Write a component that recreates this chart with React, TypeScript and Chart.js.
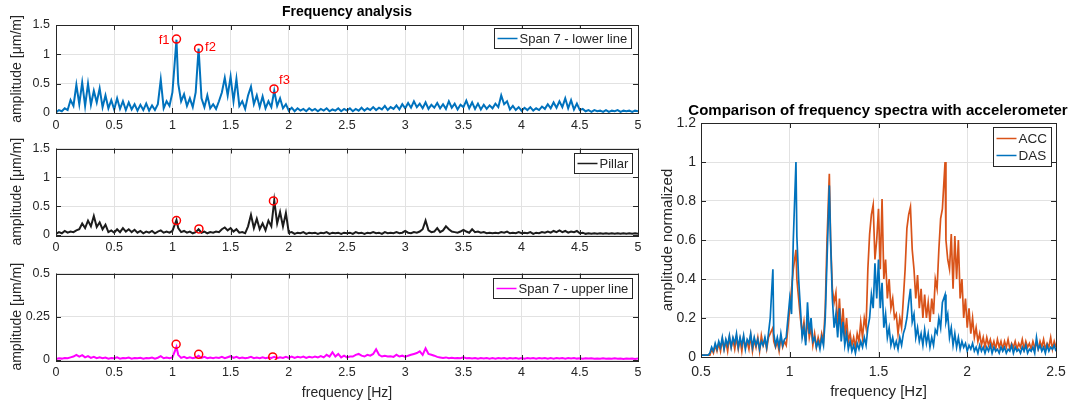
import React, { useEffect, useRef } from "react";
import { Chart, registerables } from "chart.js";

Chart.register(...registerables);

const FONT = "'Liberation Sans', Arial, Helvetica, sans-serif";
const AXIS_COLOR = "#262626";
const GRID_COLOR = "#e2e2e2";

// ---------- Left panels: frequency grid [Hz] ----------
const FREQ_L = [
  0, 0.025, 0.05, 0.075, 0.1, 0.125, 0.15, 0.175, 0.2, 0.225,
  0.25, 0.275, 0.3, 0.325, 0.35, 0.375, 0.4, 0.425, 0.45, 0.475,
  0.5, 0.525, 0.55, 0.575, 0.6, 0.625, 0.65, 0.675, 0.7, 0.725,
  0.75, 0.775, 0.8, 0.825, 0.85, 0.875, 0.9, 0.925, 0.95, 0.975,
  1, 1.035, 1.05, 1.075, 1.1, 1.125, 1.15, 1.175, 1.2, 1.225,
  1.25, 1.275, 1.3, 1.325, 1.35, 1.375, 1.4, 1.425, 1.45, 1.475,
  1.5, 1.525, 1.55, 1.575, 1.6, 1.625, 1.65, 1.675, 1.7, 1.725,
  1.75, 1.775, 1.8, 1.825, 1.85, 1.875, 1.9, 1.925, 1.95, 1.975,
  2, 2.025, 2.05, 2.075, 2.1, 2.125, 2.15, 2.175, 2.2, 2.225,
  2.25, 2.275, 2.3, 2.325, 2.35, 2.375, 2.4, 2.425, 2.45, 2.475,
  2.5, 2.525, 2.55, 2.575, 2.6, 2.625, 2.65, 2.675, 2.7, 2.725,
  2.75, 2.775, 2.8, 2.825, 2.85, 2.875, 2.9, 2.925, 2.95, 2.975,
  3, 3.025, 3.05, 3.075, 3.1, 3.125, 3.15, 3.175, 3.2, 3.225,
  3.25, 3.275, 3.3, 3.325, 3.35, 3.375, 3.4, 3.425, 3.45, 3.475,
  3.5, 3.525, 3.55, 3.575, 3.6, 3.625, 3.65, 3.675, 3.7, 3.725,
  3.75, 3.775, 3.8, 3.825, 3.85, 3.875, 3.9, 3.925, 3.95, 3.975,
  4, 4.025, 4.05, 4.075, 4.1, 4.125, 4.15, 4.175, 4.2, 4.225,
  4.25, 4.275, 4.3, 4.325, 4.35, 4.375, 4.4, 4.425, 4.45, 4.475,
  4.5, 4.525, 4.55, 4.575, 4.6, 4.625, 4.65, 4.675, 4.7, 4.725,
  4.75, 4.775, 4.8, 4.825, 4.85, 4.875, 4.9, 4.925, 4.95, 4.975,
  5,
];

// Span 7 - lower line [µm/m]
const LOWER = [
  0.01, 0.05, 0.03, 0.08, 0.05, 0.22, 0.12, 0.48, 0.15, 0.52,
  0.12, 0.5, 0.14, 0.38, 0.18, 0.42, 0.1, 0.3, 0.08, 0.22,
  0.06, 0.25, 0.07, 0.2, 0.05, 0.18, 0.06, 0.15, 0.04, 0.14,
  0.05, 0.16, 0.04, 0.13, 0.05, 0.15, 0.57, 0.08, 0.2, 0.12,
  0.35, 1.25, 0.5, 0.2, 0.32, 0.12, 0.25, 0.1, 0.35, 1.1,
  0.25, 0.1, 0.3, 0.08, 0.15, 0.07, 0.2, 0.35, 0.6, 0.3,
  0.62, 0.2, 0.58, 0.12, 0.2, 0.07, 0.3, 0.45, 0.15, 0.3,
  0.1, 0.28, 0.08, 0.2, 0.1, 0.38, 0.12, 0.25, 0.08, 0.15,
  0.04, 0.09, 0.03, 0.08, 0.04, 0.07, 0.03, 0.08, 0.04, 0.07,
  0.03, 0.07, 0.04, 0.08, 0.03, 0.06, 0.04, 0.08, 0.03, 0.07,
  0.04, 0.08, 0.03, 0.07, 0.04, 0.09, 0.04, 0.08, 0.05, 0.1,
  0.05, 0.09, 0.06, 0.12, 0.05, 0.1, 0.07, 0.13, 0.06, 0.15,
  0.08, 0.17, 0.09, 0.2, 0.1, 0.16, 0.08, 0.18, 0.07, 0.14,
  0.09, 0.17, 0.08, 0.15, 0.07, 0.2, 0.09, 0.16, 0.06, 0.14,
  0.1, 0.21, 0.08, 0.18, 0.07, 0.16, 0.06, 0.14, 0.07, 0.13,
  0.08, 0.16, 0.1, 0.3, 0.15, 0.2, 0.06, 0.12, 0.05, 0.1,
  0.04, 0.09, 0.05, 0.1, 0.04, 0.08, 0.05, 0.11, 0.07, 0.15,
  0.08, 0.18, 0.09, 0.2, 0.1, 0.25, 0.08, 0.22, 0.06, 0.16,
  0.05, 0.07, 0.03, 0.05, 0.02, 0.05, 0.03, 0.04, 0.02, 0.05,
  0.02, 0.04, 0.03, 0.05, 0.02, 0.04, 0.03, 0.04, 0.02, 0.04,
  0.03,
];

// Pillar [µm/m]
const PILLAR = [
  0.02, 0.05, 0.03, 0.07, 0.04, 0.06, 0.05, 0.08, 0.1, 0.2,
  0.12, 0.25, 0.15, 0.33, 0.14, 0.22, 0.1, 0.18, 0.05, 0.08,
  0.04, 0.1, 0.05, 0.12, 0.06, 0.1, 0.05, 0.09, 0.04, 0.07,
  0.03, 0.06, 0.04, 0.07, 0.03, 0.06, 0.08, 0.04, 0.06, 0.04,
  0.07, 0.26, 0.12, 0.05, 0.07, 0.04, 0.06, 0.03, 0.05, 0.1,
  0.04, 0.06, 0.03, 0.05, 0.04, 0.06, 0.05, 0.1, 0.13, 0.08,
  0.12, 0.06, 0.1, 0.04, 0.05, 0.03, 0.15, 0.35, 0.12, 0.28,
  0.1, 0.2, 0.08, 0.25, 0.15, 0.6, 0.2, 0.4, 0.15, 0.38,
  0.04, 0.05, 0.02, 0.04, 0.03, 0.05, 0.02, 0.04, 0.03, 0.04,
  0.02, 0.04, 0.03, 0.05, 0.02, 0.04, 0.03, 0.04, 0.02, 0.04,
  0.03, 0.04, 0.02, 0.05, 0.03, 0.04, 0.02, 0.04, 0.03, 0.05,
  0.03, 0.04, 0.02, 0.05, 0.03, 0.04, 0.03, 0.05, 0.03, 0.04,
  0.07, 0.04, 0.03, 0.05, 0.04, 0.06, 0.1, 0.25, 0.08, 0.05,
  0.06, 0.12, 0.05, 0.08, 0.15, 0.1, 0.06, 0.05, 0.04, 0.06,
  0.09, 0.06, 0.04, 0.1, 0.05, 0.06, 0.04, 0.05, 0.03, 0.04,
  0.03, 0.04, 0.03, 0.05, 0.04, 0.06, 0.03, 0.04, 0.03, 0.05,
  0.03, 0.04, 0.03, 0.05, 0.02, 0.04, 0.03, 0.05, 0.04, 0.06,
  0.04, 0.07, 0.05, 0.08, 0.05, 0.07, 0.04, 0.06, 0.05, 0.07,
  0.03, 0.04, 0.02, 0.03, 0.02, 0.03, 0.02, 0.03, 0.02, 0.03,
  0.02, 0.03, 0.02, 0.03, 0.02, 0.03, 0.02, 0.03, 0.02, 0.03,
  0.02,
];

// Span 7 - upper line [µm/m]
const UPPER = [
  0.005, 0.01, 0.008, 0.012, 0.01, 0.015, 0.02, 0.03, 0.02, 0.028,
  0.015, 0.022, 0.012, 0.018, 0.01, 0.015, 0.01, 0.014, 0.008, 0.012,
  0.01, 0.015, 0.008, 0.012, 0.01, 0.014, 0.008, 0.012, 0.01, 0.013,
  0.008, 0.012, 0.01, 0.014, 0.008, 0.013, 0.022, 0.01, 0.014, 0.01,
  0.015, 0.075, 0.03, 0.012, 0.018, 0.01, 0.015, 0.01, 0.014, 0.025,
  0.012, 0.018, 0.01, 0.014, 0.01, 0.015, 0.012, 0.018, 0.01, 0.016,
  0.022, 0.012, 0.018, 0.01, 0.014, 0.01, 0.013, 0.018, 0.01, 0.014,
  0.01, 0.015, 0.01, 0.014, 0.012, 0.018, 0.01, 0.016, 0.012, 0.018,
  0.012, 0.02, 0.012, 0.018, 0.014, 0.02, 0.012, 0.018, 0.014, 0.02,
  0.015, 0.022, 0.015, 0.03, 0.02, 0.045, 0.02, 0.035, 0.015, 0.025,
  0.015, 0.02, 0.02, 0.03, 0.035, 0.025, 0.02, 0.03, 0.025, 0.035,
  0.062, 0.03, 0.02, 0.025, 0.02, 0.022, 0.018, 0.03, 0.02, 0.025,
  0.018, 0.025, 0.03, 0.035, 0.04, 0.05, 0.03, 0.068, 0.035, 0.03,
  0.025, 0.018, 0.015, 0.012, 0.015, 0.01, 0.013, 0.01, 0.012, 0.01,
  0.015, 0.01, 0.012, 0.009, 0.012, 0.008, 0.011, 0.009, 0.012, 0.008,
  0.011, 0.008, 0.012, 0.009, 0.011, 0.008, 0.012, 0.009, 0.011, 0.008,
  0.012, 0.008, 0.011, 0.009, 0.012, 0.008, 0.011, 0.009, 0.012, 0.008,
  0.011, 0.008, 0.012, 0.009, 0.011, 0.008, 0.012, 0.009, 0.011, 0.008,
  0.01, 0.007, 0.01, 0.008, 0.01, 0.007, 0.009, 0.007, 0.01, 0.007,
  0.009, 0.007, 0.01, 0.007, 0.009, 0.006, 0.009, 0.007, 0.009, 0.006,
  0.008,
];

// Marked peaks
const PEAK_LABELS = ["f1", "f2", "f3"];
const PEAK_F_LOWER = [1.035, 1.225, 1.873];
const PEAK_A_LOWER = [1.26, 1.1, 0.41];
const PEAK_F_PILLAR = [1.035, 1.228, 1.868];
const PEAK_A_PILLAR = [0.25, 0.105, 0.59];
const PEAK_F_UPPER = [1.032, 1.226, 1.862];
const PEAK_A_UPPER = [0.091, 0.033, 0.018];

// ---------- Right panel ----------
const FREQ_R = [
  0.5, 0.51, 0.52, 0.53, 0.54, 0.55, 0.56, 0.57, 0.58, 0.59,
  0.6, 0.61, 0.62, 0.63, 0.64, 0.65, 0.66, 0.67, 0.68, 0.69,
  0.7, 0.71, 0.72, 0.73, 0.74, 0.75, 0.76, 0.77, 0.78, 0.79,
  0.8, 0.81, 0.82, 0.83, 0.84, 0.85, 0.86, 0.87, 0.88, 0.89,
  0.905, 0.91, 0.92, 0.93, 0.94, 0.95, 0.96, 0.97, 0.98, 0.99,
  1, 1.01, 1.02, 1.035, 1.04, 1.05, 1.06, 1.07, 1.08, 1.09,
  1.1, 1.11, 1.12, 1.13, 1.14, 1.15, 1.16, 1.17, 1.18, 1.19,
  1.2, 1.21, 1.223, 1.23, 1.24, 1.25, 1.26, 1.27, 1.28, 1.29,
  1.3, 1.31, 1.32, 1.33, 1.34, 1.35, 1.36, 1.37, 1.38, 1.39,
  1.4, 1.41, 1.42, 1.43, 1.44, 1.45, 1.46, 1.47, 1.48, 1.49,
  1.5, 1.51, 1.52, 1.53, 1.54, 1.55, 1.56, 1.57, 1.58, 1.59,
  1.6, 1.61, 1.62, 1.63, 1.64, 1.65, 1.66, 1.67, 1.68, 1.69,
  1.7, 1.71, 1.72, 1.73, 1.74, 1.75, 1.76, 1.77, 1.78, 1.79,
  1.8, 1.81, 1.82, 1.83, 1.84, 1.85, 1.86, 1.875, 1.88, 1.89,
  1.9, 1.91, 1.92, 1.93, 1.94, 1.95, 1.96, 1.97, 1.98, 1.99,
  2, 2.01, 2.02, 2.03, 2.04, 2.05, 2.06, 2.07, 2.08, 2.09,
  2.1, 2.11, 2.12, 2.13, 2.14, 2.15, 2.16, 2.17, 2.18, 2.19,
  2.2, 2.21, 2.22, 2.23, 2.24, 2.25, 2.26, 2.27, 2.28, 2.29,
  2.3, 2.31, 2.32, 2.33, 2.34, 2.35, 2.36, 2.37, 2.38, 2.39,
  2.4, 2.41, 2.42, 2.43, 2.44, 2.45, 2.46, 2.47, 2.48, 2.49,
  2.5,
];

const ACC = [
  0.01, 0.01, 0.01, 0.01, 0.01, 0.01, 0.04, 0.02, 0.06, 0.03,
  0.07, 0.03, 0.09, 0.04, 0.08, 0.03, 0.1, 0.05, 0.09, 0.04,
  0.1, 0.04, 0.09, 0.03, 0.1, 0.05, 0.08, 0.04, 0.11, 0.03,
  0.09, 0.05, 0.1, 0.03, 0.11, 0.06, 0.09, 0.04, 0.1, 0.12,
  0.15, 0.08, 0.05, 0.08, 0.03, 0.1, 0.05, 0.08, 0.06, 0.15,
  0.25, 0.35, 0.45, 0.55, 0.4, 0.3, 0.2, 0.12, 0.18, 0.08,
  0.2, 0.1, 0.15, 0.06, 0.12, 0.05, 0.1, 0.06, 0.12, 0.08,
  0.25, 0.6, 0.94, 0.61, 0.35, 0.28, 0.33, 0.15, 0.3, 0.12,
  0.25, 0.1, 0.2, 0.08, 0.12, 0.06, 0.1, 0.05, 0.12, 0.08,
  0.18, 0.1, 0.2, 0.15, 0.45, 0.63, 0.73, 0.78, 0.5, 0.6,
  0.76, 0.45, 0.81, 0.4, 0.5, 0.3, 0.4, 0.25, 0.3, 0.2,
  0.22, 0.12, 0.2, 0.15, 0.3, 0.45, 0.66, 0.73, 0.77, 0.55,
  0.45, 0.3, 0.42, 0.25, 0.35, 0.2, 0.32, 0.2, 0.28, 0.18,
  0.3, 0.22, 0.4, 0.35, 0.55, 0.71, 0.76, 1.0, 0.6, 0.5,
  0.45, 0.63, 0.35, 0.62, 0.4, 0.6, 0.3, 0.4, 0.2, 0.3,
  0.15, 0.25, 0.12, 0.2, 0.1, 0.15, 0.08, 0.12, 0.06, 0.1,
  0.05, 0.1, 0.06, 0.09, 0.05, 0.08, 0.04, 0.09, 0.05, 0.08,
  0.04, 0.08, 0.05, 0.09, 0.04, 0.07, 0.05, 0.08, 0.04, 0.07,
  0.05, 0.09, 0.04, 0.08, 0.05, 0.07, 0.04, 0.08, 0.05, 0.07,
  0.04, 0.08, 0.05, 0.09, 0.04, 0.07, 0.05, 0.1, 0.04, 0.08,
  0.05,
];

const DAS = [
  0.01, 0.01, 0.01, 0.01, 0.01, 0.02, 0.05, 0.03, 0.07, 0.04,
  0.08, 0.05, 0.1, 0.04, 0.09, 0.06, 0.11, 0.05, 0.1, 0.07,
  0.12, 0.05, 0.1, 0.06, 0.11, 0.04, 0.09, 0.07, 0.12, 0.05,
  0.1, 0.06, 0.09, 0.04, 0.08, 0.06, 0.1, 0.05, 0.12, 0.2,
  0.45, 0.12, 0.06, 0.1, 0.05, 0.12, 0.06, 0.09, 0.1, 0.2,
  0.3, 0.22, 0.6, 1.0, 0.62, 0.4, 0.25, 0.1, 0.15, 0.06,
  0.28, 0.12, 0.2, 0.08, 0.1, 0.05, 0.08, 0.04, 0.1, 0.06,
  0.2, 0.5, 0.88, 0.6, 0.3, 0.15, 0.22, 0.1, 0.25, 0.08,
  0.18, 0.06, 0.12, 0.04, 0.08, 0.03, 0.06, 0.02, 0.07, 0.04,
  0.08, 0.05, 0.1, 0.06, 0.15, 0.2, 0.32, 0.25, 0.48, 0.3,
  0.5, 0.25, 0.38, 0.15, 0.22, 0.1, 0.15, 0.06, 0.1, 0.05,
  0.08, 0.04, 0.1, 0.06, 0.12, 0.15, 0.2, 0.28, 0.35, 0.18,
  0.22, 0.1, 0.15, 0.08, 0.12, 0.06, 0.14, 0.07, 0.12, 0.05,
  0.1, 0.06, 0.14, 0.12, 0.2, 0.15, 0.28, 0.32, 0.18, 0.22,
  0.1, 0.15, 0.06, 0.12, 0.05, 0.1, 0.04, 0.08, 0.05, 0.07,
  0.03, 0.06, 0.04, 0.07, 0.03, 0.05, 0.02, 0.06, 0.03, 0.05,
  0.02, 0.05, 0.03, 0.06, 0.02, 0.05, 0.03, 0.04, 0.02, 0.05,
  0.03, 0.05, 0.02, 0.04, 0.03, 0.06, 0.02, 0.05, 0.03, 0.04,
  0.02, 0.05, 0.03, 0.06, 0.02, 0.04, 0.03, 0.05, 0.02, 0.1,
  0.04, 0.06, 0.03, 0.05, 0.02, 0.06, 0.03, 0.05, 0.04, 0.06,
  0.03,
];

// Tick values
const X_TICKS_L = [0, 0.5, 1, 1.5, 2, 2.5, 3, 3.5, 4, 4.5, 5];
const Y_TICKS_SPAN = [0, 0.5, 1, 1.5];
const Y_TICKS_UPPER = [0, 0.25, 0.5];
const X_TICKS_R = [0.5, 1, 1.5, 2, 2.5];
const Y_TICKS_R = [0, 0.2, 0.4, 0.6, 0.8, 1, 1.2];

const BLUE = "#0072BD";
const ORANGE = "#D95319";
const BLACK = "#1c1c1c";
const MAGENTA = "#FF00FF";
const RED = "#FF0000";

const pts = (xs: number[], ys: number[]) => xs.map((x, i) => ({ x, y: ys[i] }));

function lineDs(label: string, xs: number[], ys: number[], color: string, order: number, width: number) {
  return {
    label,
    data: pts(xs, ys),
    borderColor: color,
    backgroundColor: color,
    borderWidth: width,
    pointRadius: 0,
    tension: 0,
    fill: false,
    borderJoinStyle: "miter",
    order,
  };
}

function markerDs(xs: number[], ys: number[]) {
  return {
    label: "peaks",
    data: pts(xs, ys),
    showLine: false,
    pointRadius: 4,
    pointBorderWidth: 1.5,
    pointBorderColor: RED,
    pointBackgroundColor: "rgba(0,0,0,0)",
    borderColor: RED,
    order: 0,
  };
}

type PanelCfg = {
  left: number;
  top: number;
  width: number;
  height: number;
  plot: { left: number; top: number; right: number; bottom: number };
  xMin: number;
  xMax: number;
  yMin: number;
  yMax: number;
  xTicks: number[];
  yTicks: number[];
  tickFont: number;
  xTickPad: number;
  yTickPad: number;
  datasets: any[];
  title?: { text: string; x: number; y: number; size: number };
  yLabel: { text: string; x: number; size: number };
  xLabel?: { text: string; y: number; size: number };
  legend: { items: { label: string; color: string }[]; gapRight: number; gapTop: number; rowH: number; vpad: number; size: number };
  peakText?: { ds: number; labels: string[]; offs: { dx: number; dy: number; align: CanvasTextAlign }[]; size: number };
};

function Panel({ cfg }: { cfg: PanelCfg }) {
  const ref = useRef<HTMLCanvasElement | null>(null);
  useEffect(() => {
    const canvas = ref.current!;
    const p = cfg.plot;
    const decor = {
      id: "decor",
      afterDatasetsDraw(chart: any) {
        const { ctx, chartArea: ca, scales } = chart;
        ctx.save();
        ctx.strokeStyle = AXIS_COLOR;
        ctx.lineWidth = 1;
        ctx.beginPath();
        for (const t of scales.x.ticks) {
          const px = Math.round(scales.x.getPixelForValue(t.value)) + 0.5;
          ctx.moveTo(px, ca.bottom);
          ctx.lineTo(px, ca.bottom - 5);
          ctx.moveTo(px, ca.top);
          ctx.lineTo(px, ca.top + 5);
        }
        for (const t of scales.y.ticks) {
          const py = Math.round(scales.y.getPixelForValue(t.value)) + 0.5;
          ctx.moveTo(ca.left, py);
          ctx.lineTo(ca.left + 5, py);
          ctx.moveTo(ca.right, py);
          ctx.lineTo(ca.right - 5, py);
        }
        ctx.stroke();
        ctx.strokeRect(Math.round(ca.left) + 0.5, Math.round(ca.top) + 0.5, Math.round(ca.right - ca.left), Math.round(ca.bottom - ca.top));
        ctx.restore();
      },
      afterDraw(chart: any) {
        const { ctx, chartArea: ca } = chart;
        ctx.save();
        if (cfg.peakText) {
          const meta = chart.getDatasetMeta(cfg.peakText.ds);
          ctx.fillStyle = RED;
          ctx.font = `${cfg.peakText.size}px ${FONT}`;
          ctx.textBaseline = "middle";
          meta.data.forEach((el: any, i: number) => {
            const o = cfg.peakText!.offs[i];
            ctx.textAlign = o.align;
            ctx.fillText(cfg.peakText!.labels[i], el.x + o.dx, el.y + o.dy);
          });
        }
        if (cfg.title) {
          ctx.fillStyle = "#000";
          ctx.font = `bold ${cfg.title.size}px ${FONT}`;
          ctx.textAlign = "center";
          ctx.textBaseline = "middle";
          ctx.fillText(cfg.title.text, cfg.title.x, cfg.title.y);
        }
        ctx.fillStyle = AXIS_COLOR;
        ctx.font = `${cfg.yLabel.size}px ${FONT}`;
        ctx.save();
        ctx.translate(cfg.yLabel.x, (ca.top + ca.bottom) / 2);
        ctx.rotate(-Math.PI / 2);
        ctx.textAlign = "center";
        ctx.textBaseline = "middle";
        ctx.fillText(cfg.yLabel.text, 0, 0);
        ctx.restore();
        if (cfg.xLabel) {
          ctx.font = `${cfg.xLabel.size}px ${FONT}`;
          ctx.textAlign = "center";
          ctx.textBaseline = "middle";
          ctx.fillText(cfg.xLabel.text, (ca.left + ca.right) / 2, cfg.xLabel.y);
        }
        const lg = cfg.legend;
        ctx.font = `${lg.size}px ${FONT}`;
        const tw = Math.max(...lg.items.map((it) => ctx.measureText(it.label).width));
        const w = Math.round(3 + 20 + 3 + tw + 3);
        const h = Math.round(lg.items.length * lg.rowH + 2 * lg.vpad);
        const x0 = Math.round(ca.right - lg.gapRight - w) + 0.5;
        const y0 = Math.round(ca.top + lg.gapTop) + 0.5;
        ctx.fillStyle = "#fff";
        ctx.fillRect(x0, y0, w, h);
        ctx.strokeStyle = AXIS_COLOR;
        ctx.lineWidth = 1;
        ctx.strokeRect(x0, y0, w, h);
        lg.items.forEach((it, k) => {
          const cy = y0 + lg.vpad + lg.rowH * (k + 0.5);
          ctx.strokeStyle = it.color;
          ctx.lineWidth = 1.5;
          ctx.beginPath();
          ctx.moveTo(x0 + 3, cy);
          ctx.lineTo(x0 + 23, cy);
          ctx.stroke();
          ctx.fillStyle = AXIS_COLOR;
          ctx.textAlign = "left";
          ctx.textBaseline = "middle";
          ctx.fillText(it.label, x0 + 25, cy + 0.5);
        });
        ctx.restore();
      },
    };
    const chart = new Chart(canvas, {
      type: "line",
      data: { datasets: cfg.datasets },
      options: {
        animation: false,
        responsive: false,
        maintainAspectRatio: false,
        events: [],
        layout: { padding: { left: 0, top: p.top, right: cfg.width - p.right, bottom: 0 } },
        plugins: { legend: { display: false }, title: { display: false }, tooltip: { enabled: false } },
        scales: {
          x: {
            type: "linear",
            min: cfg.xMin,
            max: cfg.xMax,
            afterBuildTicks: (s: any) => {
              s.ticks = cfg.xTicks.map((v) => ({ value: v }));
            },
            afterFit: (s: any) => {
              s.height = cfg.height - p.bottom;
            },
            grid: { color: GRID_COLOR, drawTicks: false, lineWidth: 1 },
            border: { display: false },
            ticks: {
              autoSkip: false,
              maxRotation: 0,
              padding: cfg.xTickPad,
              color: AXIS_COLOR,
              font: { family: FONT, size: cfg.tickFont },
              callback: (v: any) => String(v),
            },
          },
          y: {
            type: "linear",
            min: cfg.yMin,
            max: cfg.yMax,
            afterBuildTicks: (s: any) => {
              s.ticks = cfg.yTicks.map((v) => ({ value: v }));
            },
            afterFit: (s: any) => {
              s.width = p.left;
            },
            grid: { color: GRID_COLOR, drawTicks: false, lineWidth: 1 },
            border: { display: false },
            ticks: {
              autoSkip: false,
              padding: cfg.yTickPad,
              color: AXIS_COLOR,
              font: { family: FONT, size: cfg.tickFont },
              callback: (v: any) => String(v),
            },
          },
        },
      } as any,
      plugins: [decor as any],
    });
    return () => chart.destroy();
  }, []);
  return (
    <canvas
      ref={ref}
      width={cfg.width}
      height={cfg.height}
      style={{ position: "absolute", left: cfg.left, top: cfg.top, width: cfg.width, height: cfg.height }}
    />
  );
}

const Y_LABEL_L = "amplitude [μm/m]";

const PANELS: PanelCfg[] = [
  {
    left: 0, top: 0, width: 660, height: 135,
    plot: { left: 56, top: 25, right: 638, bottom: 113 },
    xMin: 0, xMax: 5, yMin: 0, yMax: 1.5,
    xTicks: X_TICKS_L, yTicks: Y_TICKS_SPAN, tickFont: 12.5, xTickPad: 5, yTickPad: 6,
    datasets: [lineDs("Span 7 - lower line", FREQ_L, LOWER, BLUE, 1, 2), markerDs(PEAK_F_LOWER, PEAK_A_LOWER)],
    title: { text: "Frequency analysis", x: 347, y: 12.5, size: 14 },
    yLabel: { text: Y_LABEL_L, x: 17, size: 14 },
    legend: { items: [{ label: "Span 7 - lower line", color: BLUE }], gapRight: 7, gapTop: 3, rowH: 18, vpad: 1, size: 13 },
    peakText: {
      ds: 1,
      labels: PEAK_LABELS,
      size: 13,
      offs: [
        { dx: -7, dy: 1, align: "right" },
        { dx: 6.5, dy: -1.5, align: "left" },
        { dx: 5, dy: -8.5, align: "left" },
      ],
    },
  },
  {
    left: 0, top: 135, width: 660, height: 125,
    plot: { left: 56, top: 13, right: 638, bottom: 100 },
    xMin: 0, xMax: 5, yMin: 0, yMax: 1.5,
    xTicks: X_TICKS_L, yTicks: Y_TICKS_SPAN, tickFont: 12.5, xTickPad: 5, yTickPad: 6,
    datasets: [lineDs("Pillar", FREQ_L, PILLAR, BLACK, 1, 2), markerDs(PEAK_F_PILLAR, PEAK_A_PILLAR)],
    yLabel: { text: Y_LABEL_L, x: 17, size: 14 },
    legend: { items: [{ label: "Pillar", color: BLACK }], gapRight: 6, gapTop: 4, rowH: 18, vpad: 1, size: 13 },
  },
  {
    left: 0, top: 260, width: 660, height: 142,
    plot: { left: 56, top: 12, right: 638, bottom: 100 },
    xMin: 0, xMax: 5, yMin: 0, yMax: 0.5,
    xTicks: X_TICKS_L, yTicks: Y_TICKS_UPPER, tickFont: 12.5, xTickPad: 5, yTickPad: 6,
    datasets: [lineDs("Span 7 - upper line", FREQ_L, UPPER, MAGENTA, 1, 2), markerDs(PEAK_F_UPPER, PEAK_A_UPPER)],
    yLabel: { text: Y_LABEL_L, x: 17, size: 14 },
    xLabel: { text: "frequency [Hz]", y: 133, size: 14 },
    legend: { items: [{ label: "Span 7 - upper line", color: MAGENTA }], gapRight: 6, gapTop: 4, rowH: 18, vpad: 1, size: 13 },
  },
  {
    left: 660, top: 90, width: 413, height: 312,
    plot: { left: 41, top: 33, right: 396, bottom: 267 },
    xMin: 0.5, xMax: 2.5, yMin: 0, yMax: 1.2,
    xTicks: X_TICKS_R, yTicks: Y_TICKS_R, tickFont: 14, xTickPad: 7, yTickPad: 5,
    datasets: [lineDs("ACC", FREQ_R, ACC, ORANGE, 2, 1.7), lineDs("DAS", FREQ_R, DAS, BLUE, 1, 1.7)],
    title: { text: "Comparison of frequency spectra with accelerometer", x: 218, y: 20.5, size: 15 },
    yLabel: { text: "amplitude normalized", x: 8, size: 15 },
    xLabel: { text: "frequency [Hz]", y: 302, size: 15 },
    legend: {
      items: [
        { label: "ACC", color: ORANGE },
        { label: "DAS", color: BLUE },
      ],
      gapRight: 5, gapTop: 4, rowH: 17, vpad: 2.5, size: 13.5,
    },
  },
];

export default function App() {
  return (
    <div style={{ position: "fixed", left: 0, top: 0, width: 1073, height: 402, background: "#fff", overflow: "hidden" }}>
      {PANELS.map((cfg, i) => (
        <Panel key={i} cfg={cfg} />
      ))}
    </div>
  );
}
